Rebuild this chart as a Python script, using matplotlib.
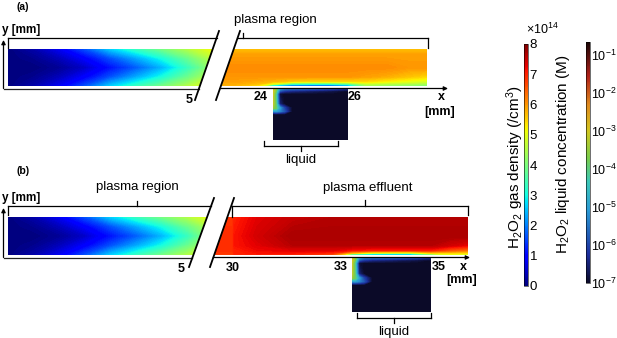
import numpy as np
import matplotlib.pyplot as plt
from matplotlib.colors import LinearSegmentedColormap, Normalize, LogNorm
from matplotlib.patches import Polygon
from matplotlib.cm import ScalarMappable
from matplotlib.ticker import NullLocator

plt.rcParams['font.family'] = 'Liberation Sans'
plt.rcParams['mathtext.fontset'] = 'custom'
plt.rcParams['mathtext.rm'] = 'Liberation Sans'
plt.rcParams['mathtext.it'] = 'Liberation Sans:italic'
plt.rcParams['mathtext.bf'] = 'Liberation Sans:bold'

# ---- data ----
# gas density in 1e14 /cm3; x in mm, y as fraction of channel height (0 = top, 1 = wall)
inlet_x = [0.0, 0.625, 1.25, 1.875, 2.5, 3.125, 3.75, 4.375, 5.0]
inlet_y = [0.0, 0.25, 0.5, 0.75, 1.0]
inlet_gas = [
    [0.0, 0.3, 0.8, 1.6, 2.6, 3.3, 3.9, 4.5, 5.1],
    [0.0, 0.1, 0.4, 0.9, 1.6, 2.3, 3.0, 3.8, 4.6],
    [0.0, 0.0, 0.15, 0.5, 1.1, 1.7, 2.4, 3.3, 4.3],
    [0.0, 0.1, 0.4, 0.9, 1.6, 2.3, 3.0, 3.8, 4.6],
    [0.0, 0.3, 0.8, 1.6, 2.6, 3.3, 3.9, 4.5, 5.1],
]

plasma_x = [22.4, 23.0, 23.6, 24.0, 24.5, 25.0, 25.5, 26.0, 26.5, 27.0, 27.6, 28.2]
plasma_y = [0.0, 0.15, 0.5, 0.75, 0.88, 0.95, 1.0]
plasma_gas = [
    [5.5, 5.6, 5.6, 5.6, 5.6, 5.6, 5.6, 5.6, 5.6, 5.6, 5.6, 5.6],
    [5.9, 5.9, 5.9, 5.9, 5.9, 5.9, 5.9, 5.9, 5.9, 5.9, 5.9, 5.9],
    [6.1, 6.1, 6.1, 6.1, 6.1, 6.1, 6.1, 6.1, 6.1, 6.1, 6.0, 6.0],
    [6.0, 6.0, 6.0, 6.0, 6.0, 6.0, 6.0, 6.0, 5.9, 5.8, 5.6, 5.4],
    [5.9, 5.9, 5.8, 5.7, 5.5, 5.4, 5.4, 5.4, 5.4, 5.2, 5.0, 4.8],
    [5.8, 5.8, 5.6, 4.8, 3.2, 3.0, 3.0, 3.5, 4.6, 4.5, 4.4, 4.3],
    [5.7, 5.7, 5.2, 1.5, 0.9, 0.9, 0.9, 1.5, 4.2, 4.1, 4.0, 4.0],
]

effluent_x = [29.4, 29.98, 30.02, 30.6, 31.5, 32.5, 33.0, 33.5, 34.0, 34.5, 35.0, 35.5, 36.0]
effluent_y = [0.0, 0.5, 0.75, 0.88, 0.95, 1.0]
effluent_gas = [
    [6.8, 6.8, 7.0, 7.3, 7.5, 7.6, 7.6, 7.6, 7.6, 7.6, 7.6, 7.6, 7.6],
    [6.9, 6.9, 7.1, 7.4, 7.7, 7.7, 7.7, 7.7, 7.7, 7.7, 7.7, 7.7, 7.7],
    [6.9, 6.9, 7.1, 7.3, 7.6, 7.6, 7.6, 7.6, 7.6, 7.6, 7.6, 7.4, 7.2],
    [6.9, 6.9, 7.0, 7.2, 7.3, 7.3, 7.1, 7.0, 7.0, 7.0, 7.0, 6.5, 6.2],
    [6.8, 6.8, 7.0, 7.1, 7.1, 6.9, 5.6, 4.8, 4.6, 4.6, 5.4, 5.4, 5.3],
    [6.8, 6.8, 6.9, 7.0, 6.9, 6.5, 2.0, 0.9, 0.9, 0.9, 3.0, 4.8, 4.6],
]

# liquid concentration, log10(M); x, y as fractions of the liquid box
liq_x = [0.0, 0.04, 0.09, 0.15, 0.25, 0.5, 0.8, 1.0]
liq_y = [0.0, 0.05, 0.1, 0.3, 0.38, 0.44, 0.5, 1.0]
liq_log = [
    [-3.0, -3.6, -5.0, -5.4, -5.5, -5.6, -5.9, -6.3],
    [-3.0, -3.8, -5.8, -6.2, -6.4, -6.6, -6.8, -7.0],
    [-3.1, -4.2, -6.9, -7.0, -7.0, -7.0, -7.0, -7.0],
    [-3.2, -4.0, -6.5, -7.0, -7.0, -7.0, -7.0, -7.0],
    [-3.5, -3.9, -5.0, -6.0, -7.0, -7.0, -7.0, -7.0],
    [-5.2, -5.0, -5.3, -5.8, -7.0, -7.0, -7.0, -7.0],
    [-7.0, -7.0, -7.0, -7.0, -7.0, -7.0, -7.0, -7.0],
    [-7.0, -7.0, -7.0, -7.0, -7.0, -7.0, -7.0, -7.0],
]

gas_ticks = [0, 1, 2, 3, 4, 5, 6, 7, 8]
liq_ticks = [1e-7, 1e-6, 1e-5, 1e-4, 1e-3, 1e-2, 1e-1]
liq_ticklabels = ['$10^{-7}$', '$10^{-6}$', '$10^{-5}$', '$10^{-4}$',
                  '$10^{-3}$', '$10^{-2}$', '$10^{-1}$']
liq_max = 0.22

gas_norm = Normalize(0, 8)
liq_norm = Normalize(-7, np.log10(liq_max))
liq_cmap = LinearSegmentedColormap.from_list('liq', [
    (0.0, '#0b0a28'), (0.12, '#1c2f9e'), (0.3, '#2a9ad6'), (0.42, '#3cc8b8'),
    (0.52, '#7acd4a'), (0.63, '#d2c820'), (0.74, '#e08a1e'), (0.86, '#b02018'),
    (1.0, '#1a0606')])

fig = plt.figure(figsize=(6.17, 3.38), dpi=100)
ax = fig.add_axes([0, 0, 1, 1])
ax.set_xlim(0, 617)
ax.set_ylim(338, 0)
ax.axis('off')


def line_x(line, y):
    (xt, yt), (xb, yb) = line
    return xt + (xb - xt) * (y - yt) / (yb - yt)


def field(xs, ys, z, cmap, norm, clip):
    X, Y = np.meshgrid(xs, ys)
    cs = ax.contourf(X, Y, np.array(z), levels=np.linspace(norm.vmin, norm.vmax, 161),
                     cmap=cmap, norm=norm, extend='both')
    cs.set_clip_path(Polygon(clip, closed=True, transform=ax.transData))


def brace(x0, x1, y, hook0=None, hook1=None, tip=None, tip_len=5):
    ax.plot([x0, x1], [y, y], color='k', lw=0.9)
    if hook0 is not None:
        ax.plot([x0, x0], [y, y + hook0], color='k', lw=0.9)
    if hook1 is not None:
        ax.plot([x1, x1], [y, y + hook1], color='k', lw=0.9)
    if tip is not None:
        ax.plot([tip, tip], [y, y + tip_len], color='k', lw=0.9)


def arrow(x0, y0, x1, y1):
    ax.annotate('', xy=(x1, y1), xytext=(x0, y0),
                arrowprops=dict(arrowstyle='-|>', lw=0.9, color='k',
                                mutation_scale=6, shrinkA=0, shrinkB=0))


tick_kw = dict(fontsize=9, fontweight='bold', va='center')


def panel(tag, y_top, y_bot, y_ax, l1, l2, right_map, right_x, right_y, right_gas,
          x_end, liq_mm, liq_bot, right_ticks, arrow_end, tag_y, liq_brace):
    # inlet channel, 0-5 mm
    xs = [8 + 41 * v for v in inlet_x]
    ys = [y_top + f * (y_bot - y_top) for f in inlet_y]
    field(xs, ys, inlet_gas, 'jet', gas_norm,
          [(8, y_top), (line_x(l1, y_top), y_top), (line_x(l1, y_bot), y_bot), (8, y_bot)])
    # downstream channel
    xs = [right_map(v) for v in right_x]
    ys = [y_top + f * (y_bot - y_top) for f in right_y]
    field(xs, ys, right_gas, 'jet', gas_norm,
          [(line_x(l2, y_top), y_top), (x_end, y_top), (x_end, y_bot), (line_x(l2, y_bot), y_bot)])
    # liquid
    lx0, lx1 = right_map(liq_mm[0]), right_map(liq_mm[1])
    xs = [lx0 + f * (lx1 - lx0) for f in liq_x]
    ys = [y_ax + f * (liq_bot - y_ax) for f in liq_y]
    field(xs, ys, liq_log, liq_cmap, liq_norm,
          [(lx0, y_ax), (lx1, y_ax), (lx1, liq_bot), (lx0, liq_bot)])
    # axes
    arrow(3.5, y_ax, 3.5, y_top - 9)
    ax.plot([3.5, line_x(l1, y_ax)], [y_ax, y_ax], color='#222222', lw=0.9)
    arrow(line_x(l2, y_ax), y_ax, arrow_end, y_ax)
    # break marks
    for l in (l1, l2):
        ax.plot([l[0][0], l[1][0]], [l[0][1], l[1][1]], color='k', lw=1.3)
    ax.text(2, y_top - 19, 'y [mm]', fontsize=8.5, fontweight='bold', va='center')
    ax.text(23, tag_y, tag, fontsize=7.5, fontweight='bold', ha='center', va='center')
    for (txt, x, y, ha) in right_ticks:
        ax.text(x, y, txt, ha=ha, **tick_kw)
    ax.text(arrow_end - 7, y_ax + 9, 'x', ha='center', **tick_kw)
    ax.text(arrow_end - 8, y_ax + 23, '[mm]', ha='center', **tick_kw)
    # liquid brace
    bx0, bx1 = liq_brace
    brace(bx0, bx1, liq_bot + 6, hook0=-5, hook1=-5, tip=(bx0 + bx1) / 2, tip_len=5)
    ax.text((bx0 + bx1) / 2, liq_bot + 20, 'liquid', fontsize=9.5, ha='center', va='center')


# (a)
a_l1 = ((219, 31), (195, 100))
a_l2 = ((240, 31), (216, 100))
panel('(a)', 49, 86, 88.5, a_l1, a_l2, lambda v: 273 + 37.5 * (v - 24),
      plasma_x, plasma_y, plasma_gas, 427, (24, 26), 140,
      [('5', 189, 100, 'center'), ('24', 268, 97, 'right'), ('26', 348, 97, 'left')],
      448, 7, (264, 338))
brace(8, line_x(a_l1, 38), 38, hook0=10)
brace(line_x(a_l2, 38), 428, 38, hook1=10, tip=243, tip_len=-5)
ax.text(275, 20, 'plasma region', fontsize=9.5, ha='center', va='center')

# (b)
b_l1 = ((214, 198), (189, 267))
b_l2 = ((234, 198), (210, 267))
panel('(b)', 217, 255, 257.5, b_l1, b_l2, lambda v: 352 + 39.5 * (v - 33),
      effluent_x, effluent_y, effluent_gas, 468, (33, 35), 312,
      [('5', 181, 269, 'center'), ('30', 233, 268, 'center'),
       ('33', 348, 267, 'right'), ('35', 432, 267, 'left')],
      470, 171, (357, 431))
brace(8, line_x(b_l1, 206), 206, hook0=9, tip=137, tip_len=-5)
brace(232, 468, 206, hook0=11, hook1=9, tip=365, tip_len=-6)
ax.text(137, 187, 'plasma region', fontsize=9.5, ha='center', va='center')
ax.text(368, 188, 'plasma effluent', fontsize=9.5, ha='center', va='center')

# colorbars
cax1 = fig.add_axes([524 / 617, (338 - 286) / 338, 3.5 / 617, 242 / 338])
cb1 = fig.colorbar(ScalarMappable(norm=gas_norm, cmap='jet'), cax=cax1, ticks=gas_ticks)
cb1.ax.tick_params(length=0, pad=1.5, labelsize=9.5)
cb1.outline.set_linewidth(0.4)
fig.text(526 / 617, 1 - 37 / 338, '×10$^{14}$', fontsize=9, ha='left', va='bottom')
fig.text(515 / 617, 1 - 167 / 338, 'H$_2$O$_2$ gas density (/cm$^3$)', rotation=90,
         ha='center', va='center', fontsize=11)

cax2 = fig.add_axes([586 / 617, (338 - 283) / 338, 3.5 / 617, 241 / 338])
cb2 = fig.colorbar(ScalarMappable(norm=LogNorm(1e-7, liq_max), cmap=liq_cmap), cax=cax2)
cb2.set_ticks(liq_ticks)
cb2.set_ticklabels(liq_ticklabels)
cb2.ax.yaxis.set_minor_locator(NullLocator())
cb2.ax.tick_params(length=0, pad=1, labelsize=9)
cb2.outline.set_linewidth(0.4)
fig.text(563 / 617, 1 - 154 / 338, 'H$_2$O$_2$ liquid concentration (M)', rotation=90,
         ha='center', va='center', fontsize=11)

fig.savefig('out.png', dpi=100)
